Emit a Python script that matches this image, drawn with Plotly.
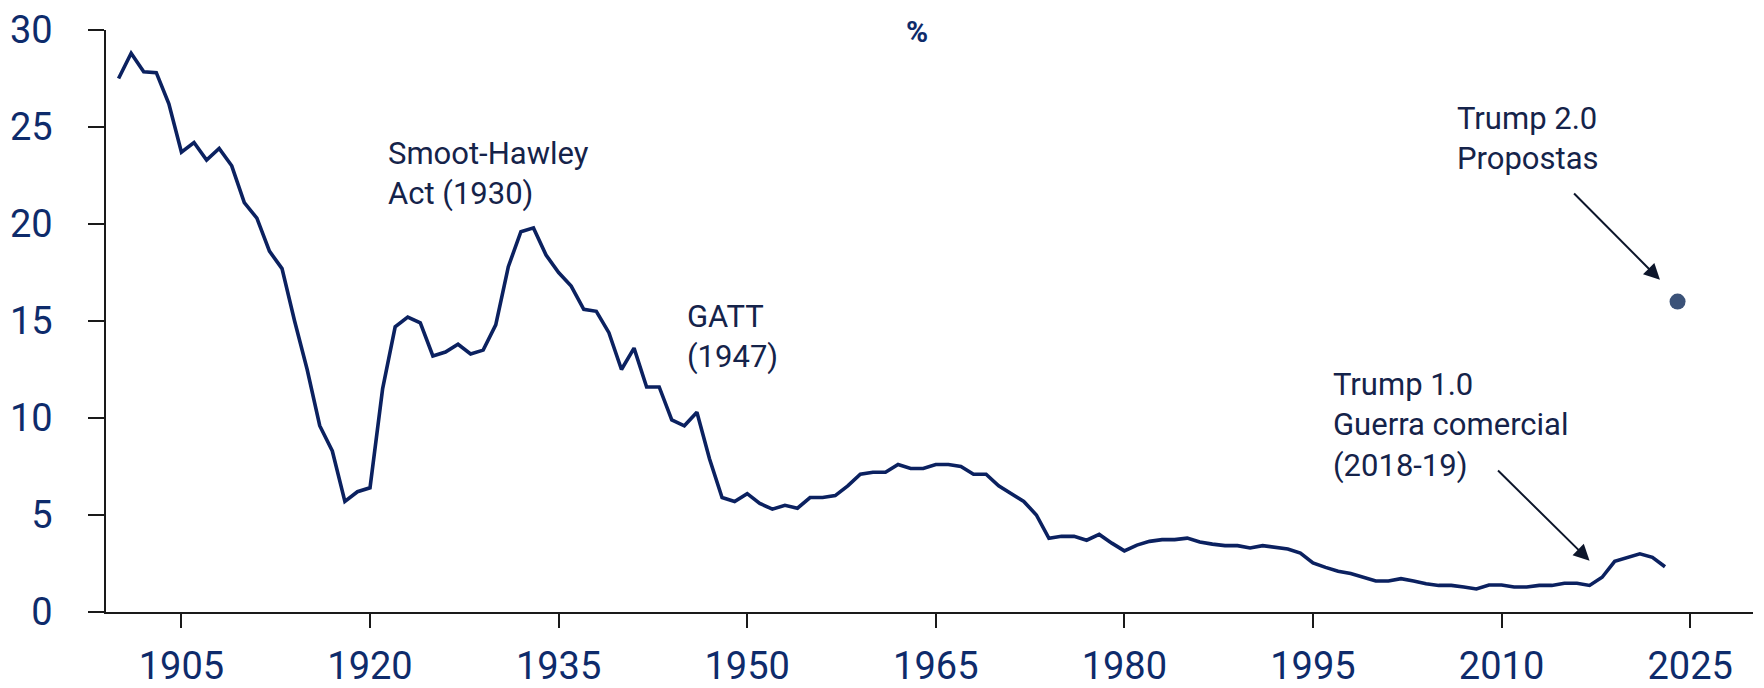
import plotly.graph_objects as go

# ---- data ----
tariff_values = [
    27.5, 28.8, 27.85, 27.8, 26.2, 23.7, 24.2, 23.3, 23.9, 23.0,   # 1900-1909
    21.1, 20.3, 18.6, 17.7, 15.0, 12.5, 9.6, 8.3, 5.7, 6.2,        # 1910-1919
    6.4, 11.5, 14.7, 15.2, 14.9, 13.2, 13.4, 13.8, 13.3, 13.5,     # 1920-1929
    14.8, 17.8, 19.6, 19.8, 18.4, 17.5, 16.8, 15.6, 15.5, 14.4,    # 1930-1939
    12.5, 13.6, 11.6, 11.6, 9.9, 9.6, 10.3, 7.9, 5.9, 5.7,         # 1940-1949
    6.1, 5.6, 5.3, 5.5, 5.35, 5.9, 5.9, 6.0, 6.5, 7.1,             # 1950-1959
    7.2, 7.2, 7.6, 7.4, 7.4, 7.6, 7.6, 7.5, 7.1, 7.1,              # 1960-1969
    6.5, 6.1, 5.7, 5.0, 3.8, 3.9, 3.9, 3.7, 4.0, 3.55,             # 1970-1979
    3.15, 3.45, 3.64, 3.73, 3.73, 3.81, 3.61, 3.5, 3.42, 3.42,     # 1980-1989
    3.3, 3.42, 3.35, 3.25, 3.04, 2.53, 2.3, 2.1, 1.98, 1.8,        # 1990-1999
    1.6, 1.6, 1.72, 1.6, 1.46, 1.37, 1.37, 1.29, 1.19, 1.39,       # 2000-2009
    1.39, 1.29, 1.29, 1.37, 1.37, 1.48, 1.48, 1.37, 1.79, 2.61,    # 2010-2019
    2.82, 3.0, 2.82, 2.33,                                         # 2020-2023
]
years = list(range(1900, 1900 + len(tariff_values)))

proposal_year = [2024]
proposal_value = [16.0]

x_tick_vals = [1905, 1920, 1935, 1950, 1965, 1980, 1995, 2010, 2025]
y_tick_vals = [0, 5, 10, 15, 20, 25, 30]

unit_label = "%"
labels = {
    "smoot": "Smoot-Hawley<br>Act (1930)",
    "gatt": "GATT<br>(1947)",
    "trump1": "Trump 1.0<br>Guerra comercial<br>(2018-19)",
    "trump2": "Trump 2.0<br>Propostas",
}

# ---- styles ----
LINE_COLOR = "#0b2160"
DOT_COLOR = "#3b5278"
TICK_COLOR = "#0e2b6b"
TEXT_COLOR = "#15234a"
ARROW_COLOR = "#0d162b"
FONT = "Roboto"

fig = go.Figure()
fig.add_trace(go.Scatter(
    x=years, y=tariff_values, mode="lines",
    line=dict(color=LINE_COLOR, width=3.6),
    hoverinfo="skip",
))
fig.add_trace(go.Scatter(
    x=proposal_year, y=proposal_value, mode="markers",
    marker=dict(color=DOT_COLOR, size=16),
    hoverinfo="skip",
))

ann = []
text_font = dict(family=FONT, size=31, color=TEXT_COLOR)
ann.append(dict(x=1921.25, y=22.58, xref="x", yref="y", text=labels["smoot"],
                showarrow=False, xanchor="left", yanchor="middle", align="left", font=text_font))
ann.append(dict(x=1945.05, y=14.18, xref="x", yref="y", text=labels["gatt"],
                showarrow=False, xanchor="left", yanchor="middle", align="left", font=text_font))
ann.append(dict(x=1996.4, y=9.65, xref="x", yref="y", text=labels["trump1"],
                showarrow=False, xanchor="left", yanchor="middle", align="left", font=text_font))
ann.append(dict(x=2006.3, y=24.41, xref="x", yref="y", text=labels["trump2"],
                showarrow=False, xanchor="left", yanchor="middle", align="left", font=text_font))
# arrows
ann.append(dict(x=2017.0, y=2.64, ax=2009.6, ay=7.37, xref="x", yref="y", axref="x", ayref="y",
                text="", showarrow=True, arrowhead=2, arrowsize=1.6, arrowwidth=2, arrowcolor=ARROW_COLOR))
ann.append(dict(x=2022.6, y=17.12, ax=2015.65, ay=21.65, xref="x", yref="y", axref="x", ayref="y",
                text="", showarrow=True, arrowhead=2, arrowsize=1.6, arrowwidth=2, arrowcolor=ARROW_COLOR))
# unit label
ann.append(dict(x=0.4924, y=0.9966, xref="paper", yref="paper", text="<b>" + unit_label + "</b>",
                showarrow=False, xanchor="center", yanchor="middle",
                font=dict(family=FONT, size=30, color=TICK_COLOR)))

# page body adds an 8px offset; size the figure so the plot lands where the reference has it
fig.update_layout(
    width=1756, height=680,
    margin=dict(l=98, r=11, t=22, b=76),
    paper_bgcolor="white", plot_bgcolor="white",
    showlegend=False, hovermode=False,
    annotations=ann,
    font=dict(family=FONT, color=TICK_COLOR),
)
fig.update_xaxes(
    range=[1899, 2030], tickvals=x_tick_vals, automargin=False,
    showgrid=False, zeroline=False,
    showline=True, linecolor="#1a1a1a", linewidth=1.5,
    ticks="outside", ticklen=14, tickwidth=1.5, tickcolor="#1a1a1a",
    tickfont=dict(family=FONT, size=38, color=TICK_COLOR),
    ticklabelstandoff=6,
)
fig.update_yaxes(
    range=[0, 30], tickvals=y_tick_vals, automargin=False,
    showgrid=False, zeroline=False,
    showline=True, linecolor="#1a1a1a", linewidth=1.5,
    ticks="outside", ticklen=16, tickwidth=1.5, tickcolor="#1a1a1a",
    tickfont=dict(family=FONT, size=38, color=TICK_COLOR),
    ticklabelstandoff=28,
)

fig.write_html("out.html")
